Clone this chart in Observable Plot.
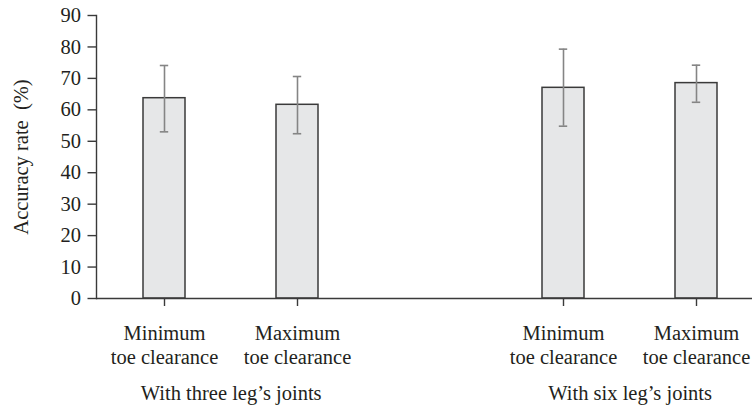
<!DOCTYPE html>
<html>
<head>
<meta charset="utf-8">
<script src="https://cdn.jsdelivr.net/npm/d3@7"></script>
<script src="https://cdn.jsdelivr.net/npm/@observablehq/plot@0.6"></script>
<style>
  html, body { margin: 0; padding: 0; background: #fff; overflow: hidden; }
</style>
</head>
<body>
<div id="chart"></div>
<script>
// ---- data ----
const groups = ["With three leg’s joints", "With six leg’s joints"];
const measures = ["Minimum\ntoe clearance", "Maximum\ntoe clearance"];
const means = [63.7, 61.6, 67.0, 68.5];   // accuracy rate (%)
const lower = [53.0, 52.4, 54.8, 62.4];   // error bar low
const upper = [74.1, 70.6, 79.3, 74.2];   // error bar high
const yTicks = [0, 10, 20, 30, 40, 50, 60, 70, 80, 90];

// ---- table built from the arrays ----
const rows = [];
groups.forEach((g, gi) => measures.forEach((m, mi) => {
  const i = gi * measures.length + mi;
  rows.push({key: `g${gi}m${mi}`, group: g, measure: m, mean: means[i], lo: lower[i], hi: upper[i]});
}));
// x domain: the two groups separated by one empty slot
const domain = [...rows.slice(0, 2).map(d => d.key), "gap", ...rows.slice(2).map(d => d.key)];
const labelOf = new Map(rows.map(d => [d.key, d.measure]));
const groupRows = groups.map((g, gi) => ({group: g, first: `g${gi}m0`}));

const W = 752, H = 408, ML = 96;
const x0 = ML, step = 133.33, x1 = ML + step * domain.length;
const FONT = "Liberation Serif, Times New Roman, serif";
const FS = 20.5;
const ink = "#231f20";

const chart = Plot.plot({
  width: W,
  height: H,
  marginLeft: ML,
  marginRight: 0,
  marginTop: 15,
  marginBottom: 110,
  style: {fontFamily: FONT, fontSize: FS + "px", color: ink, background: "#fff"},
  x: {type: "band", domain, range: [x0, x1], paddingInner: 0.6875, paddingOuter: 0.34375, align: 0.5, axis: null},
  y: {domain: [0, 90], axis: null},
  marks: [
    Plot.barY(rows, {x: "key", y: "mean", fill: "#e6e7e8", stroke: "#3a3a3a", strokeWidth: 1.5}),
    Plot.ruleX(rows, {x: "key", y1: "lo", y2: "hi", stroke: "#858585", strokeWidth: 1.6}),
    Plot.tickY(rows, {x: "key", y: "hi", stroke: "#858585", strokeWidth: 1.6, insetLeft: 16.8, insetRight: 16.8}),
    Plot.tickY(rows, {x: "key", y: "lo", stroke: "#858585", strokeWidth: 1.6, insetLeft: 16.8, insetRight: 16.8}),
    Plot.ruleY([0], {stroke: "#3a3a3a", strokeWidth: 1.4}),
    Plot.frame({anchor: "left", stroke: "#3a3a3a", strokeWidth: 1.4}),
    Plot.axisY({
      ticks: yTicks, tickSize: 8.5, tickPadding: 7, stroke: "#3a3a3a", strokeWidth: 1.4,
      fontSize: FS, fill: ink,
      label: "Accuracy rate\u00a0 (%)", labelAnchor: "center", labelOffset: 83, labelArrow: "none"
    }),
    Plot.axisX({
      ticks: rows.map(d => d.key), tickFormat: k => labelOf.get(k),
      tickSize: 8, tickPadding: 16, stroke: "#3a3a3a", strokeWidth: 1.4,
      fontSize: FS, lineHeight: 1.17, fill: ink, label: null, textOverflow: null, lineWidth: Infinity
    }),
    Plot.text(groupRows, {
      x: "first", text: "group", dx: step / 2, frameAnchor: "bottom", lineAnchor: "top",
      dy: 87, fontSize: FS, fill: ink
    })
  ]
});
document.getElementById("chart").appendChild(chart);
</script>
</body>
</html>
